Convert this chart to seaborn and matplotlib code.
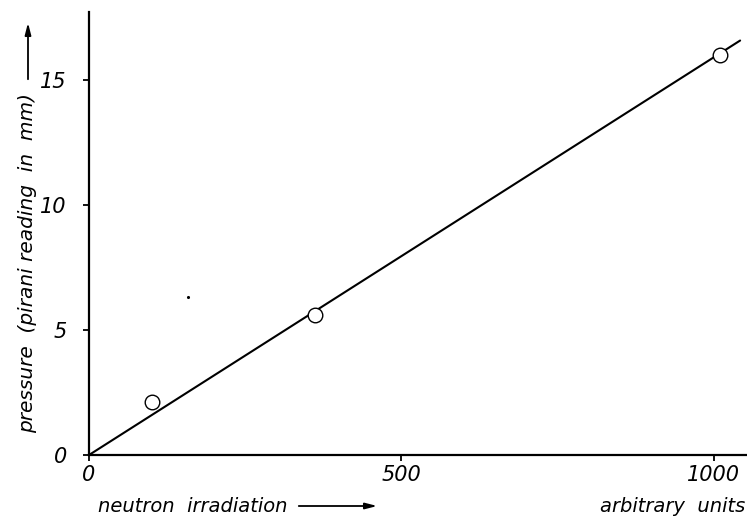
import numpy as np
import pandas as pd
import matplotlib
matplotlib.use("Agg")
import matplotlib.pyplot as plt
import seaborn as sns

# measured points (neutron irradiation, pirani pressure)
irradiation = [101, 362, 1010]
pressure = [2.1, 5.6, 16.0]

# straight line through the origin drawn on the original
fit_x = [0, 1042]
fit_y = [0, 16.56]

# speck on the scan
speck_x = [158]
speck_y = [6.3]

x_ticks = [0, 500, 1000]
y_ticks = [0, 5, 10, 15]

sns.set_style("ticks")
plt.rcParams['font.family'] = ['DejaVu Sans']
plt.rcParams['font.style'] = 'italic'
plt.rcParams['text.color'] = 'black'

fig = plt.figure(figsize=(7.47, 5.22), dpi=100)
ax = fig.add_axes([89 / 747, 67 / 522, 1 - 89 / 747, (455 - 12) / 522])

sns.lineplot(x=fit_x, y=fit_y, ax=ax, color='black', linewidth=1.5)
sns.scatterplot(x=irradiation, y=pressure, ax=ax, s=110, marker='o',
                facecolor='white', edgecolor='black', linewidth=1.0, zorder=3)
sns.scatterplot(x=speck_x, y=speck_y, ax=ax, s=5, color='black', linewidth=0)

ax.set_xlim(0, 1053)
ax.set_ylim(0, 17.7)
ax.set_xticks(x_ticks)
ax.set_yticks(y_ticks)
ax.set_xticklabels([str(t) for t in x_ticks], fontsize=15)
ax.set_yticklabels([str(t) for t in y_ticks], fontsize=15)
ax.tick_params(direction='out', length=4, width=1.3, colors='black')
ax.tick_params(axis='x', pad=3)
ax.tick_params(axis='y', pad=12)
for side in ['top', 'right']:
    ax.spines[side].set_visible(False)
for side in ['left', 'bottom']:
    ax.spines[side].set_linewidth(1.6)
    ax.spines[side].set_color('black')
ax.set_xlabel('')
ax.set_ylabel('')

# axis captions with long arrows
arrow = dict(arrowstyle='-|>,head_length=0.7,head_width=0.18', color='black', lw=1.3)
fig.text(28 / 747, 1 - 263 / 522, 'pressure  (pirani reading  in  mm)',
         rotation=90, ha='center', va='center', fontsize=14.5)
ax.annotate('', xy=(28 / 747, 1 - 20 / 522), xytext=(28 / 747, 1 - 82 / 522),
            xycoords='figure fraction', textcoords='figure fraction', arrowprops=arrow)
fig.text(98 / 747, 1 - 507 / 522, 'neutron  irradiation', ha='left', va='center',
         fontsize=14)
ax.annotate('', xy=(380 / 747, 1 - 506 / 522), xytext=(296 / 747, 1 - 506 / 522),
            xycoords='figure fraction', textcoords='figure fraction', arrowprops=arrow)
fig.text(745 / 747, 1 - 507 / 522, 'arbitrary  units', ha='right', va='center',
         fontsize=14)

fig.savefig('out.png', dpi=100)
